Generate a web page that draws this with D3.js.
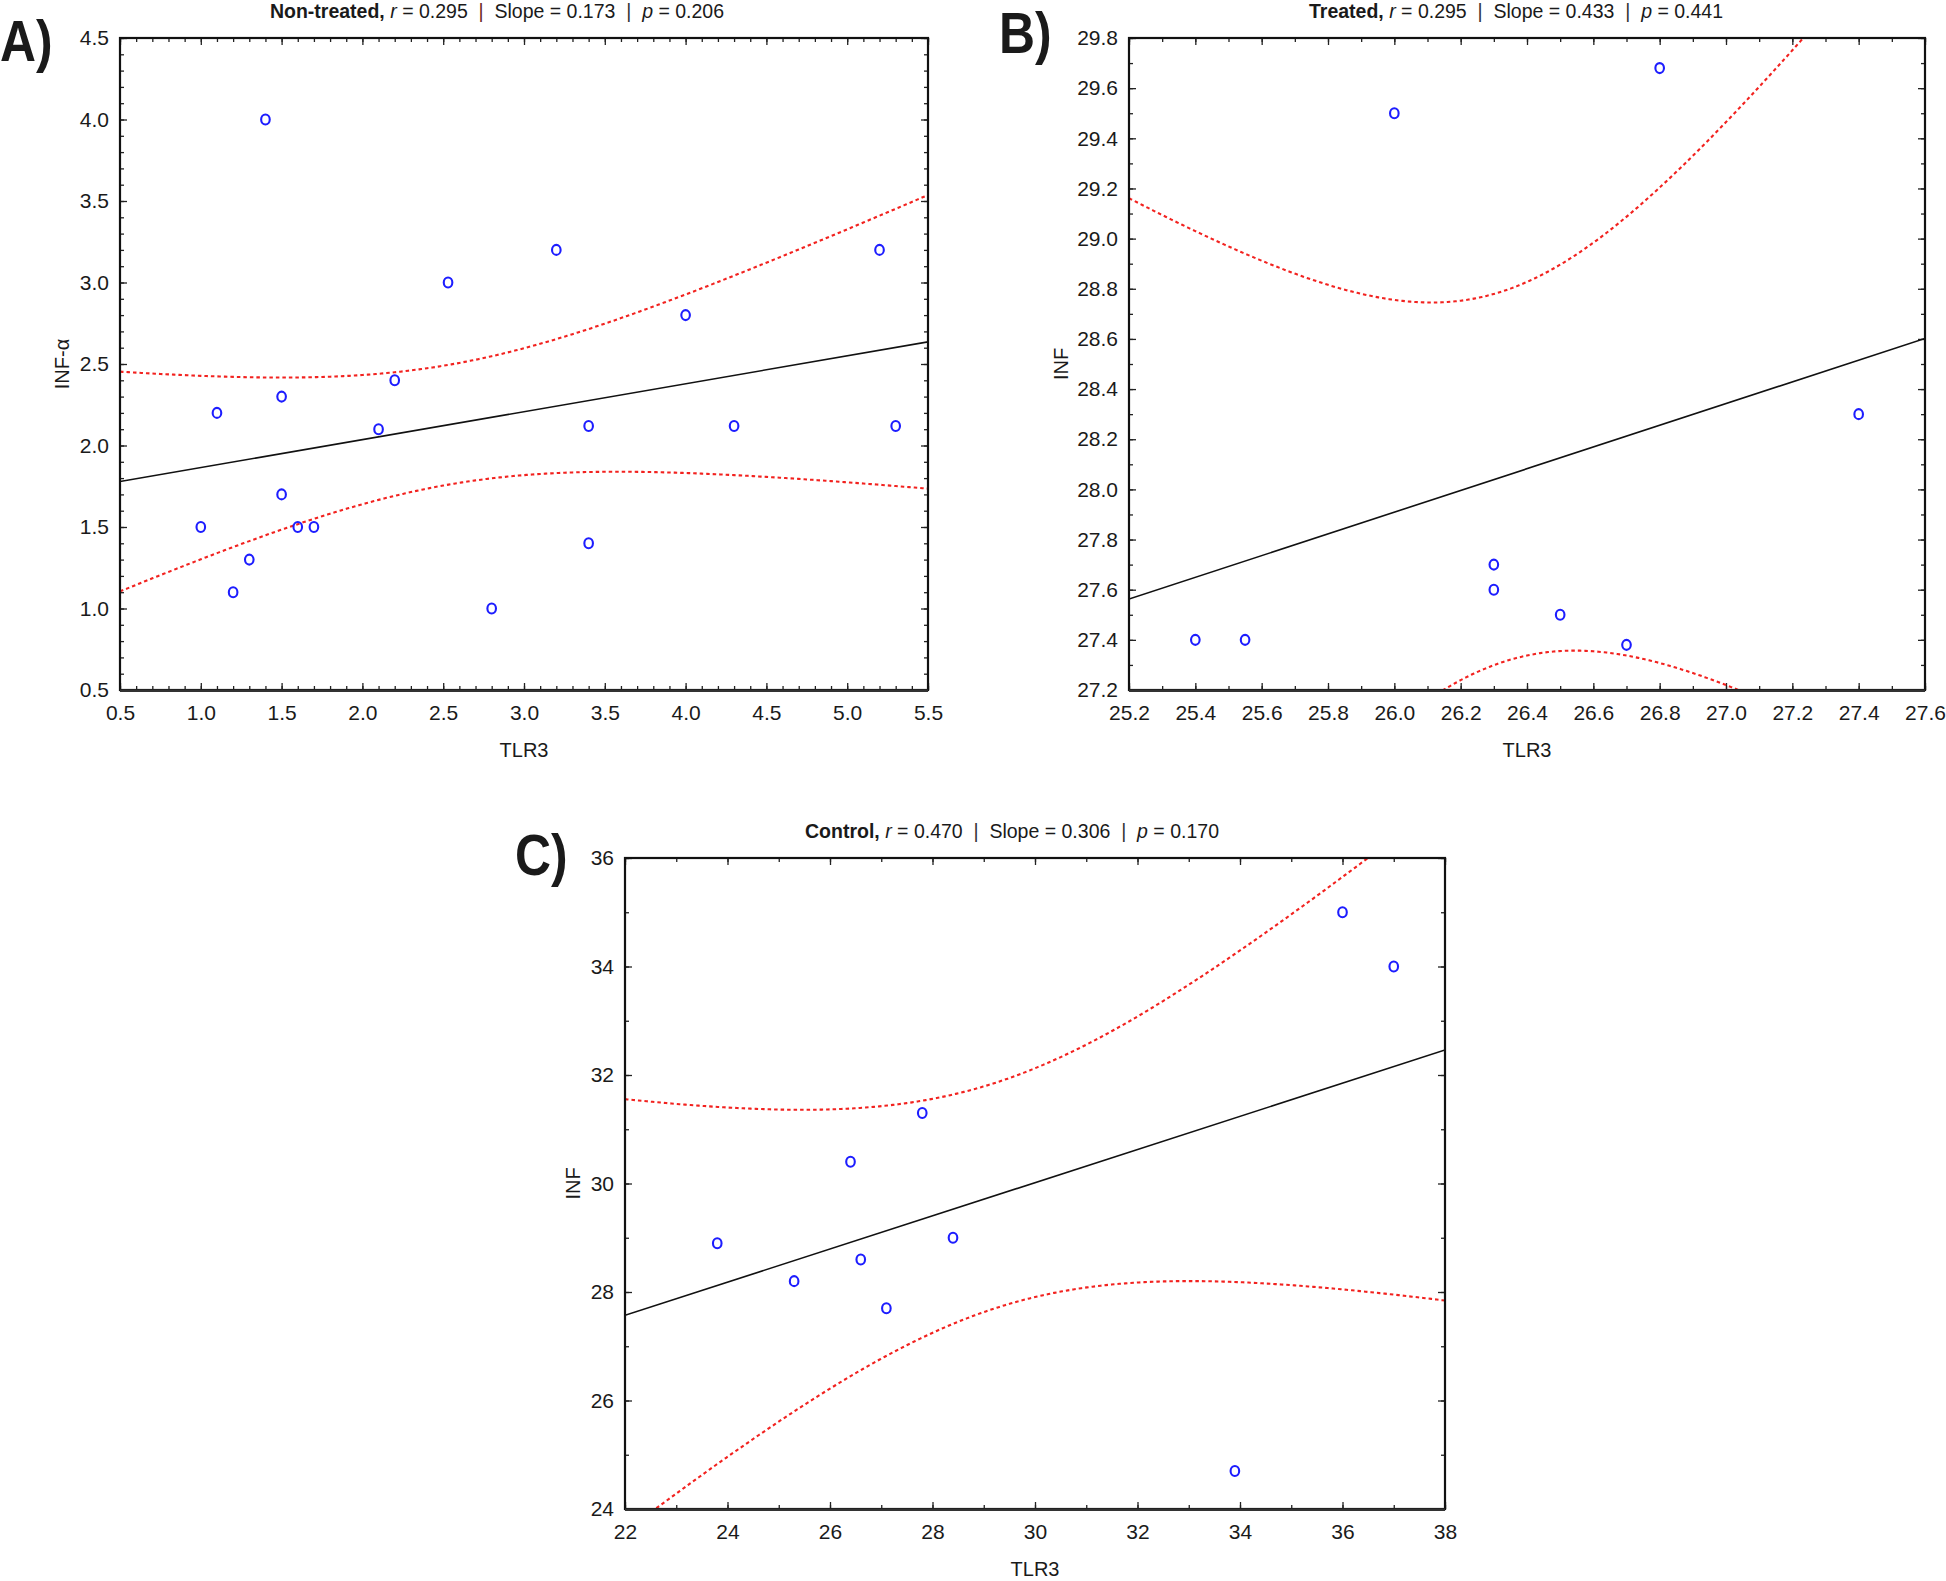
<!DOCTYPE html>
<html><head><meta charset="utf-8">
<script src="https://cdn.jsdelivr.net/npm/d3@7/dist/d3.min.js"></script>
<style>
body{margin:0;background:#fff;}
svg{display:block;}
text{font-family:"Liberation Sans Narrow","Arial Narrow","Liberation Sans",Arial,sans-serif;fill:#1a1a1a;white-space:pre;}
</style></head><body>
<svg id="c" width="1946" height="1581"></svg>
<script>
// ---- data ----
const groupNames = ["Non-treated", "Treated", "Control"];
const panelLetters = ["A)", "B)", "C)"];
const statR = ["0.295", "0.295", "0.470"];
const statSlope = ["0.173", "0.433", "0.306"];
const statP = ["0.206", "0.441", "0.170"];
const yTitles = ["INF-α", "INF", "INF"];
const xTitle = "TLR3";

const nonTreatedTLR3 = [1.0, 1.1, 1.2, 1.3, 1.4, 1.5, 1.5, 1.6, 1.7, 2.1, 2.2, 2.53, 2.8, 3.2, 3.4, 3.4, 4.0, 4.3, 5.2, 5.3];
const nonTreatedINF  = [1.5, 2.2, 1.1, 1.3, 4.0, 2.3, 1.7, 1.5, 1.5, 2.1, 2.4, 3.0, 1.0, 3.2, 2.12, 1.4, 2.8, 2.12, 3.2, 2.12];

const treatedTLR3 = [25.4, 25.55, 26.0, 26.3, 26.3, 26.5, 26.7, 26.8, 27.4];
const treatedINF  = [27.4, 27.4, 29.5, 27.7, 27.6, 27.5, 27.38, 29.68, 28.3];

const controlTLR3 = [23.8, 25.3, 26.4, 26.6, 27.1, 27.8, 28.4, 33.9, 36.0, 37.0];
const controlINF  = [28.9, 28.2, 30.4, 28.6, 27.7, 31.3, 29.0, 24.7, 35.0, 34.0];

const xTicksA = [0.5, 1.0, 1.5, 2.0, 2.5, 3.0, 3.5, 4.0, 4.5, 5.0, 5.5];
const yTicksA = [0.5, 1.0, 1.5, 2.0, 2.5, 3.0, 3.5, 4.0, 4.5];
const xTicksB = [25.2, 25.4, 25.6, 25.8, 26.0, 26.2, 26.4, 26.6, 26.8, 27.0, 27.2, 27.4, 27.6];
const yTicksB = [27.2, 27.4, 27.6, 27.8, 28.0, 28.2, 28.4, 28.6, 28.8, 29.0, 29.2, 29.4, 29.6, 29.8];
const xTicksC = [22, 24, 26, 28, 30, 32, 34, 36, 38];
const yTicksC = [24, 26, 28, 30, 32, 34, 36];
const minorSteps = [0.1, 0.1, 1];
// two-sided 95% Student t critical values, df = n - 2
const tCrit = [2.1009, 2.3646, 2.3060];

// ---- layout ----
const svg = d3.select("#c");
const panels = [
  {xs: nonTreatedTLR3, ys: nonTreatedINF, xt: xTicksA, yt: yTicksA, fmt: d3.format(".1f"),
   box: {l: 120, r: 928, t: 38, b: 690}, letter: [0, 61], yTitleX: 62, titleX: 497},
  {xs: treatedTLR3, ys: treatedINF, xt: xTicksB, yt: yTicksB, fmt: d3.format(".1f"),
   box: {l: 1129, r: 1925, t: 38, b: 690}, letter: [999, 53], yTitleX: 1061, titleX: 1516},
  {xs: controlTLR3, ys: controlINF, xt: xTicksC, yt: yTicksC, fmt: d3.format("d"),
   box: {l: 625, r: 1445, t: 858, b: 1509}, letter: [515, 875], yTitleX: 573, titleX: 1012}
];

function fit(xs, ys) {
  const n = xs.length, mx = d3.mean(xs), my = d3.mean(ys);
  let sxx = 0, sxy = 0, syy = 0;
  for (let i = 0; i < n; i++) {
    const dx = xs[i] - mx, dy = ys[i] - my;
    sxx += dx * dx; sxy += dx * dy; syy += dy * dy;
  }
  const slope = sxy / sxx, b0 = my - slope * mx;
  const s = Math.sqrt((syy - sxy * sxy / sxx) / (n - 2));
  return {n, mx, sxx, slope, b0, s};
}

panels.forEach((p, i) => {
  const {l, r, t, b} = p.box;
  const xd = [p.xt[0], p.xt[p.xt.length - 1]];
  const yd = [p.yt[0], p.yt[p.yt.length - 1]];
  const x = d3.scaleLinear().domain(xd).range([l, r]);
  const y = d3.scaleLinear().domain(yd).range([b, t]);
  const g = svg.append("g");
  const step = minorSteps[i];
  const minor = (d) => d3.range(Math.round((d[1] - d[0]) / step) + 1).map(k => +(d[0] + k * step).toFixed(4));
  const xMinor = minor(xd), yMinor = minor(yd);

  const clipId = "clip" + i;
  svg.append("clipPath").attr("id", clipId).append("rect")
    .attr("x", l).attr("y", t).attr("width", r - l).attr("height", b - t);

  // axes (ticks inward on all sides)
  const addAxis = (gen, tr, vals, size, fmt, pad) => {
    const a = g.append("g").attr("transform", tr)
      .call(gen.tickValues(vals).tickSize(-size).tickPadding(pad).tickFormat(fmt));
    a.select(".domain").remove();
    a.selectAll("line").attr("stroke", "#222").attr("stroke-width", 1.3);
    a.selectAll("text").attr("font-size", 21).attr("fill", "#1a1a1a");
    return a;
  };
  addAxis(d3.axisBottom(x), `translate(0,${b})`, xMinor, 4, () => "", 0);
  addAxis(d3.axisBottom(x), `translate(0,${b})`, p.xt, 7, p.fmt, 15);
  addAxis(d3.axisTop(x), `translate(0,${t})`, xMinor, 4, () => "", 0);
  addAxis(d3.axisTop(x), `translate(0,${t})`, p.xt, 7, () => "", 0);
  addAxis(d3.axisLeft(y), `translate(${l},0)`, yMinor, 4, () => "", 0);
  addAxis(d3.axisLeft(y), `translate(${l},0)`, p.yt, 7, p.fmt, 11);
  addAxis(d3.axisRight(y), `translate(${r},0)`, yMinor, 4, () => "", 0);
  addAxis(d3.axisRight(y), `translate(${r},0)`, p.yt, 7, () => "", 0);

  // regression and 95% confidence band
  const f = fit(p.xs, p.ys);
  const xsSample = d3.range(0, 301).map(k => xd[0] + (xd[1] - xd[0]) * k / 300);
  const hw = (xv) => tCrit[i] * f.s * Math.sqrt(1 / f.n + (xv - f.mx) * (xv - f.mx) / f.sxx);
  const yhat = (xv) => f.b0 + f.slope * xv;
  const plot = g.append("g").attr("clip-path", `url(#${clipId})`);
  [1, -1].forEach(sg => {
    plot.append("path")
      .attr("d", d3.line().x(d => x(d)).y(d => y(yhat(d) + sg * hw(d)))(xsSample))
      .attr("fill", "none").attr("stroke", "#f2221f").attr("stroke-width", 2.1)
      .attr("stroke-dasharray", "3.5,3");
  });
  plot.append("line")
    .attr("x1", x(xd[0])).attr("y1", y(yhat(xd[0])))
    .attr("x2", x(xd[1])).attr("y2", y(yhat(xd[1])))
    .attr("stroke", "#111").attr("stroke-width", 1.6);

  // points
  g.append("g").selectAll("ellipse").data(p.xs.map((xv, k) => [xv, p.ys[k]])).join("ellipse")
    .attr("cx", d => x(d[0])).attr("cy", d => y(d[1])).attr("rx", 4.3).attr("ry", 5)
    .attr("fill", "none").attr("stroke", "#1d1dff").attr("stroke-width", 2.1);

  // frame
  g.append("rect").attr("x", l).attr("y", t).attr("width", r - l).attr("height", b - t)
    .attr("fill", "none").attr("stroke", "#111").attr("stroke-width", 2.2);
  g.append("line").attr("x1", l).attr("x2", r).attr("y1", b + 0.8).attr("y2", b + 0.8)
    .attr("stroke", "#333").attr("stroke-width", 2.6);

  // titles
  const title = g.append("text").attr("x", p.titleX).attr("y", t - 20).attr("text-anchor", "middle")
    .attr("font-size", 19.5);
  title.append("tspan").attr("font-weight", "bold").text(groupNames[i] + ",");
  title.append("tspan").text(" ");
  title.append("tspan").attr("font-style", "italic").text("r");
  title.append("tspan").text(" = " + statR[i] + "  ");
  title.append("tspan").attr("fill", i === 0 ? "#6a1f1f" : "#333").text("|");
  title.append("tspan").text("  Slope = " + statSlope[i] + "  ");
  title.append("tspan").attr("fill", "#333").text("|");
  title.append("tspan").text("  ");
  title.append("tspan").attr("font-style", "italic").text("p");
  title.append("tspan").text(" = " + statP[i]);

  g.append("text").attr("x", (l + r) / 2).attr("y", b + 67).attr("text-anchor", "middle")
    .attr("font-size", 20).text(xTitle);
  g.append("text").attr("transform", `translate(${p.yTitleX},${(t + b) / 2}) rotate(-90)`)
    .attr("text-anchor", "middle").attr("dy", "0.35em").attr("font-size", 20).text(yTitles[i]);

  g.append("text").attr("transform", `translate(${p.letter[0]},${p.letter[1]}) scale(0.86,1)`)
    .attr("font-size", 58).attr("font-weight", "bold").attr("fill", "#000").text(panelLetters[i]);
});
</script>
</body></html>
